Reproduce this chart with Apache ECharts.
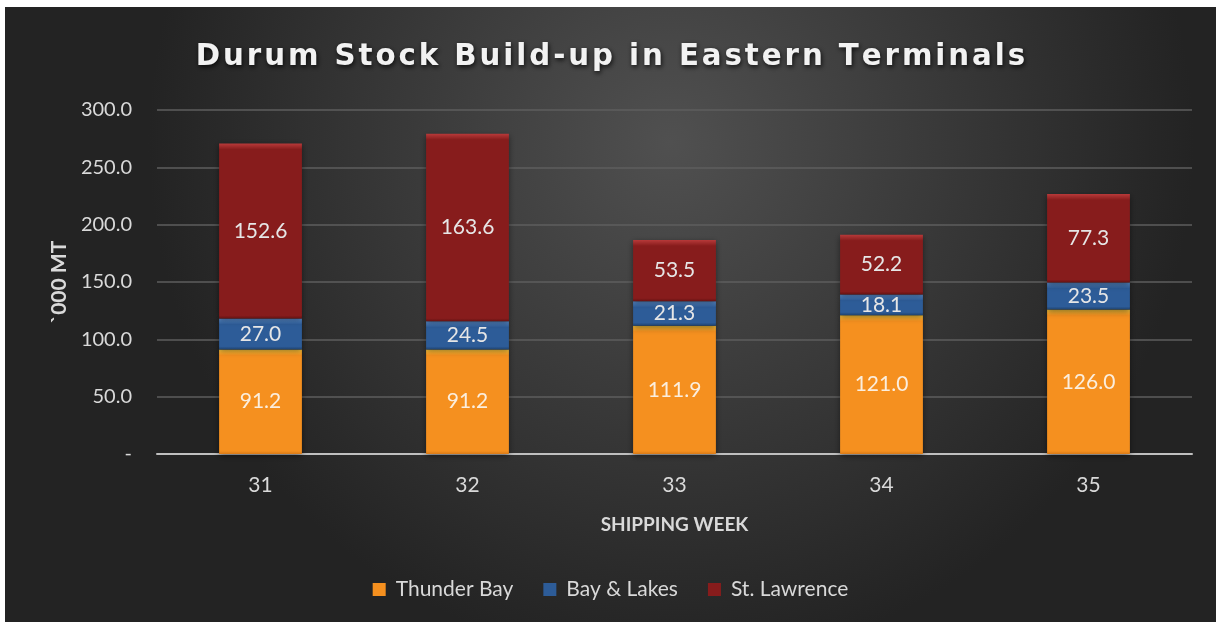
<!DOCTYPE html>
<html><head><meta charset="utf-8">
<script src="https://cdn.jsdelivr.net/npm/echarts@6/dist/echarts.min.js"></script>
<style>html,body{margin:0;padding:0;background:#fff;}#c{position:absolute;left:5px;top:7px;width:1211px;height:615px;}</style>
</head><body><div id="c"></div>
<script>
const categories = ['31','32','33','34','35'];
const thunderBay = [91.2, 91.2, 111.9, 121.0, 126.0];
const bayLakes = [27.0, 24.5, 21.3, 18.1, 23.5];
const stLawrence = [152.6, 163.6, 53.5, 52.2, 77.3];
const titleText = 'Durum Stock Build-up in Eastern Terminals';

const PX_PER_UNIT = 344 / 300;
function bevel(v, top, mid, bottom){
  const h = Math.max(v * PX_PER_UNIT, 1);
  const o = Math.min(6 / h, 0.4);
  return {type:'linear',x:0,y:0,x2:0,y2:1,colorStops:[
    {offset:0,color:top},{offset:o,color:mid},{offset:1-Math.min(3/h,0.2),color:mid},{offset:1,color:bottom}]};
}
const chart = echarts.init(document.getElementById('c'));
const font = 'Lato, "Open Sans", sans-serif';
function series(name, data, top, mid, bottom, labelColor){
  return {name, type:'bar', stack:'t', barWidth:'40%',
    data: data.map(v => ({value:v, itemStyle:{color:bevel(v, top, mid, bottom)}})),
    itemStyle:{color:mid, shadowBlur:6, shadowColor:'rgba(0,0,0,0.45)', shadowOffsetY:2},
    label:{show:true, position:'inside', color:labelColor, fontFamily:font, fontSize:21,
      formatter:p=>p.value.toFixed(1)}};
}
chart.setOption({
  backgroundColor:{type:'radial',x:0.55,y:0.22,r:0.85,colorStops:[{offset:0,color:'#505050'},{offset:1,color:'#232323'}]},
  title:{text:titleText.split('').join('\u200A'), left:'center', top:31,
    textStyle:{color:'#f2f2f2', fontFamily:'"DejaVu Sans", sans-serif', fontWeight:'bold', fontSize:29.3,
      textShadowColor:'rgba(0,0,0,0.8)', textShadowBlur:5, textShadowOffsetX:1, textShadowOffsetY:2}},
  grid:{left:152, right:24, top:103, bottom:168},
  legend:{bottom:17, left:'center', itemWidth:13, itemHeight:13, itemGap:30,
    icon:'rect', textStyle:{color:'#d9d9d9', fontFamily:font, fontSize:21, padding:[0,0,0,5]},
    data:['Thunder Bay','Bay & Lakes','St. Lawrence']},
  xAxis:{type:'category', data:categories, name:'SHIPPING WEEK', nameLocation:'middle', nameGap:61,
    nameTextStyle:{color:'#d9d9d9', fontFamily:font, fontWeight:'bold', fontSize:19},
    axisLine:{lineStyle:{color:'#bfbfbf', width:2}}, axisTick:{show:false},
    axisLabel:{color:'#d9d9d9', fontFamily:font, fontSize:21, margin:21}},
  yAxis:{type:'value', min:0, max:300, interval:50, name:'`000 MT', nameLocation:'middle', nameGap:87,
    nameTextStyle:{color:'#d9d9d9', fontFamily:font, fontWeight:'bold', fontSize:21},
    axisLine:{show:false}, axisTick:{show:false},
    splitLine:{lineStyle:{color:'#5e5e5e', width:1.5}},
    axisLabel:{color:'#d9d9d9', fontFamily:font, fontSize:20, margin:25,
      formatter:v=> v===0 ? '-' : v.toFixed(1)}},
  series:[
    series('Thunder Bay', thunderBay, '#fdc93c', '#f5901f', '#d97a17', '#fbeede'),
    series('Bay & Lakes', bayLakes, '#5b8fd0', '#2d5c98', '#1e426f', '#e6e6e6'),
    series('St. Lawrence', stLawrence, '#b83a3a', '#871c1c', '#651212', '#e6e6e6')
  ]
});
</script></body></html>
